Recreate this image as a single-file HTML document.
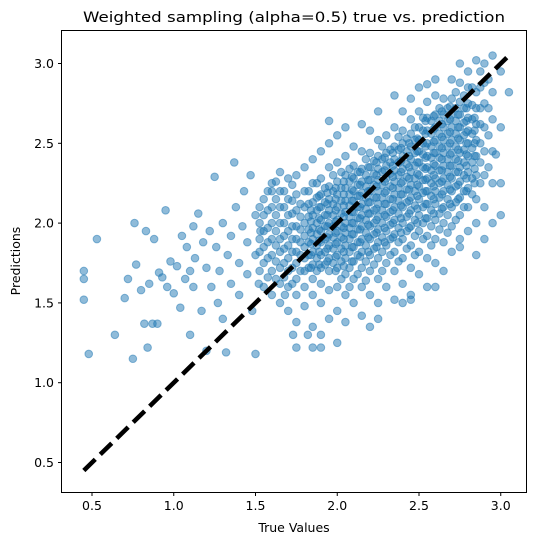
<!DOCTYPE html>
<html><head><meta charset="utf-8"><style>
body{margin:0;background:#fff;}
svg{display:block;font-family:"DejaVu Sans","Liberation Sans",sans-serif;}
</style></head><body>
<svg id="chart" width="536" height="545" viewBox="0 0 536 545">
<text x="294" y="22" font-size="14.5" text-anchor="middle" textLength="422" lengthAdjust="spacingAndGlyphs">Weighted sampling (alpha=0.5) true vs. prediction</text>
<text x="294" y="532" font-size="12.5" text-anchor="middle">True Values</text>
<text transform="translate(20,261) rotate(-90)" font-size="12.5" text-anchor="middle">Predictions</text>
<g id="pts"></g>
<g id="ticks"></g>
<rect x="61.5" y="30.5" width="465" height="462" fill="none" stroke="#000" stroke-width="1"/>
</svg>
<script>
const xTicks=[0.5,1.0,1.5,2.0,2.5,3.0];
const yTicks=[0.5,1.0,1.5,2.0,2.5,3.0];
const idealLine=[0.45,3.05];
const colX=[1.55,1.6,1.65,1.7,1.75,1.8,1.85,1.9,1.95,2.0,2.05,2.1,2.15,2.2,2.25,2.3,2.35,2.4,2.45,2.5,2.55,2.6,2.65,2.7,2.75,2.8,2.85,2.9,2.95,3.0,3.05,
2.025,2.075,2.125,2.175,2.225,2.275,2.325,2.375,2.425,2.475,2.525,2.575,2.625,2.675,2.725,2.775,2.825,1.775,1.825,1.875,1.925,1.975,
1.525,1.575,1.625,1.675,1.725,2.875,2.925];
const colY=[
[1.6,1.75,1.85,1.95,2.05,2.15],
[1.55,1.7,1.8,1.9,2.0,2.1,2.25],
[1.5,1.62,1.72,1.82,1.9,2.0,2.1,2.2,2.32],
[1.45,1.6,1.7,1.78,1.86,1.95,2.05,2.15,2.28],
[1.38,1.55,1.65,1.75,1.82,1.9,1.98,2.08,2.18,2.3],
[1.48,1.6,1.7,1.78,1.85,1.92,2.0,2.1,2.2,2.35],
[1.35,1.55,1.65,1.74,1.82,1.9,1.97,2.05,2.13,2.25,2.4],
[1.3,1.5,1.62,1.72,1.8,1.88,1.95,2.02,2.1,2.18,2.28,2.45],
[1.4,1.58,1.7,1.78,1.86,1.93,2.0,2.08,2.15,2.23,2.35,2.5],
[1.45,1.6,1.72,1.8,1.88,1.95,2.02,2.1,2.18,2.26,2.38,2.55],
[1.38,1.55,1.68,1.78,1.86,1.94,2.0,2.07,2.14,2.22,2.3,2.42,2.6],
[1.5,1.65,1.76,1.85,1.93,2.0,2.07,2.14,2.2,2.28,2.36,2.48],
[1.42,1.6,1.72,1.82,1.9,1.98,2.05,2.12,2.19,2.26,2.34,2.45,2.62],
[1.55,1.7,1.8,1.9,1.98,2.06,2.13,2.2,2.27,2.35,2.44,2.58],
[1.5,1.65,1.78,1.88,1.96,2.04,2.12,2.2,2.27,2.34,2.42,2.52,2.7],
[1.6,1.75,1.86,1.95,2.04,2.12,2.2,2.28,2.36,2.44,2.55],
[1.52,1.7,1.82,1.93,2.02,2.1,2.18,2.26,2.33,2.4,2.48,2.6,2.8],
[1.62,1.78,1.9,2.0,2.1,2.18,2.26,2.34,2.42,2.5,2.58,2.7],
[1.55,1.72,1.86,1.98,2.08,2.16,2.24,2.32,2.4,2.48,2.56,2.65,2.78],
[1.68,1.82,1.95,2.05,2.15,2.23,2.3,2.38,2.45,2.52,2.6,2.7,2.85],
[1.6,1.78,1.92,2.03,2.12,2.2,2.28,2.35,2.42,2.5,2.58,2.66,2.76],
[1.75,1.9,2.02,2.12,2.2,2.28,2.36,2.44,2.52,2.6,2.68,2.8,2.9],
[1.7,1.88,2.0,2.1,2.2,2.28,2.36,2.44,2.52,2.6,2.68,2.78],
[1.82,1.98,2.1,2.2,2.28,2.36,2.44,2.52,2.6,2.68,2.78,2.9],
[1.9,2.05,2.16,2.26,2.35,2.44,2.52,2.6,2.68,2.76,2.88,3.0],
[1.95,2.1,2.22,2.32,2.42,2.5,2.58,2.66,2.75,2.85,2.95],
[2.0,2.15,2.3,2.42,2.52,2.62,2.72,2.82,3.02],
[2.1,2.3,2.45,2.6,2.75,2.88,3.0],
[2.25,2.45,2.65,2.82,3.05],
[2.05,2.6,2.95],
[2.82],
[1.65,1.76,1.84,1.91,1.98,2.06,2.14,2.22,2.32],
[1.6,1.72,1.82,1.9,1.97,2.04,2.11,2.18,2.26,2.34],
[1.68,1.8,1.88,1.96,2.03,2.1,2.17,2.24,2.32],
[1.64,1.76,1.86,1.94,2.02,2.09,2.16,2.23,2.3,2.4],
[1.74,1.84,1.93,2.0,2.08,2.16,2.24,2.31,2.39],
[1.7,1.82,1.91,2.0,2.08,2.16,2.24,2.32,2.4,2.48],
[1.8,1.9,1.99,2.07,2.15,2.23,2.31,2.38,2.46],
[1.76,1.88,1.97,2.06,2.14,2.22,2.3,2.38,2.46,2.54],
[1.84,1.95,2.04,2.13,2.21,2.29,2.37,2.45,2.53],
[1.8,1.92,2.02,2.11,2.2,2.28,2.36,2.44,2.52,2.6],
[1.9,2.0,2.1,2.19,2.27,2.35,2.43,2.5,2.58,2.66],
[1.86,1.98,2.08,2.17,2.25,2.33,2.41,2.48,2.56,2.64],
[1.96,2.06,2.16,2.25,2.33,2.41,2.48,2.56,2.64,2.72],
[1.94,2.05,2.15,2.24,2.32,2.4,2.48,2.56,2.64,2.72],
[2.02,2.13,2.23,2.32,2.4,2.48,2.56,2.64,2.72,2.82],
[2.1,2.2,2.3,2.38,2.46,2.55,2.63,2.72,2.8],
[2.18,2.28,2.38,2.47,2.56,2.65,2.74,2.85],
[1.7,1.8,1.88,1.96,2.04,2.12],
[1.72,1.8,1.88,1.96,2.04,2.12,2.2],
[1.7,1.78,1.86,1.93,2.0,2.08,2.16,2.25],
[1.74,1.82,1.9,1.98,2.05,2.13,2.22],
[1.75,1.84,1.91,1.98,2.05,2.12,2.2,2.3],
[1.7,1.82,1.9,2.0,2.1],
[1.66,1.78,1.88,1.97,2.08,2.2],
[1.65,1.76,1.86,1.95,2.05,2.15,2.26],
[1.66,1.75,1.84,1.92,2.0,2.1,2.2],
[1.62,1.72,1.82,1.9,1.98,2.06,2.14,2.24],
[2.25,2.38,2.5,2.62,2.72,2.85,2.95],
[2.35,2.55,2.72,2.9]];
const coreX=[1.84,1.89,1.94,1.99,2.04,2.09,2.14,2.19,2.24,2.29,2.34,2.39,2.44,2.49,2.54,2.59,2.64,2.69,2.74,2.79,2.84];
const coreY=[
[1.72,1.80,1.87,1.94,2.01,2.08],
[1.74,1.82,1.89,1.96,2.03,2.10,2.17],
[1.76,1.84,1.91,1.98,2.05,2.12,2.19],
[1.70,1.79,1.87,1.94,2.01,2.08,2.15,2.22],
[1.73,1.82,1.90,1.97,2.04,2.11,2.18,2.26],
[1.76,1.85,1.93,2.0,2.07,2.14,2.21,2.29],
[1.79,1.88,1.96,2.03,2.10,2.17,2.24,2.32],
[1.82,1.91,1.99,2.06,2.13,2.20,2.27,2.35],
[1.85,1.94,2.02,2.09,2.16,2.23,2.30,2.38],
[1.88,1.97,2.05,2.12,2.19,2.26,2.33,2.41],
[1.91,2.0,2.08,2.15,2.22,2.29,2.36,2.44],
[1.94,2.03,2.11,2.18,2.25,2.32,2.39,2.47],
[1.97,2.06,2.14,2.21,2.28,2.35,2.42,2.50],
[2.0,2.09,2.17,2.24,2.31,2.38,2.45,2.53],
[2.03,2.12,2.20,2.27,2.34,2.41,2.48,2.56,2.64],
[2.06,2.15,2.23,2.30,2.37,2.44,2.51,2.59,2.67],
[2.09,2.18,2.26,2.33,2.40,2.47,2.54,2.62,2.70],
[2.12,2.21,2.29,2.36,2.43,2.50,2.57,2.65,2.73],
[2.15,2.24,2.32,2.39,2.46,2.53,2.60,2.68],
[2.2,2.28,2.36,2.43,2.50,2.57,2.64,2.72],
[2.25,2.34,2.42,2.50,2.58,2.66]];
const outX=[0.45,0.45,0.45,0.48,0.53,0.64,0.70,0.72,0.75,0.76,0.77,0.80,0.82,0.83,0.84,0.85,0.87,0.88,0.90,0.91,0.93,0.95,0.96,0.98,1.0,1.02,1.04,1.05,1.07,1.08,1.1,1.1,1.12,1.12,1.13,1.15,1.17,1.18,1.2,1.2,1.22,1.23,1.25,1.26,1.27,1.28,1.3,1.3,1.32,1.33,1.35,1.35,1.37,1.38,1.4,1.4,1.42,1.43,1.45,1.45,1.47,1.48,1.5,1.5,1.5,1.52,1.53,
2.55,2.6,2.45,2.9,2.97,2.85,1.95,2.2,2.4,2.0,1.9,1.75,1.82,2.25,3.0,2.75,2.95,1.6,1.68,1.73,1.85];
const outY=[1.52,1.65,1.70,1.18,1.90,1.30,1.53,1.65,1.15,2.00,1.74,1.58,1.37,1.95,1.22,1.62,1.37,1.90,1.37,1.69,1.66,2.08,1.60,1.76,1.56,1.73,1.47,1.92,1.65,1.85,1.30,1.70,1.98,1.60,1.78,2.06,1.45,1.88,1.20,1.72,1.95,1.60,2.29,1.85,1.50,1.70,2.00,1.40,1.19,1.80,1.92,1.62,2.38,2.10,1.75,1.55,1.98,2.20,1.68,1.88,2.30,1.45,1.80,2.05,1.18,1.62,1.95,
2.87,1.60,1.52,1.90,2.43,1.80,2.64,1.35,1.50,1.25,1.22,1.22,1.30,1.40,2.25,1.85,2.00,2.20,1.55,1.30,1.22];

const NS='http://www.w3.org/2000/svg';
function sx(v){return 92+(v-0.5)*163.5;}
function sy(v){return 462.5-(v-0.5)*159.6;}
const pts=document.getElementById('pts');
function dot(x,y){
  const c=document.createElementNS(NS,'circle');
  c.setAttribute('cx',sx(x));c.setAttribute('cy',sy(y));c.setAttribute('r',3.8);
  c.setAttribute('fill','#1f77b4');c.setAttribute('fill-opacity','0.5');
  c.setAttribute('stroke','#1f77b4');c.setAttribute('stroke-opacity','0.5');c.setAttribute('stroke-width','1');
  
  
  pts.appendChild(c);
}
colX.forEach((x,i)=>colY[i].forEach(y=>dot(x,y)));
coreX.forEach((x,i)=>coreY[i].forEach(y=>dot(x,y)));
outX.forEach((x,i)=>dot(x,outY[i]));
const ln=document.createElementNS(NS,'line');
ln.setAttribute('x1',sx(idealLine[0]));ln.setAttribute('y1',sy(idealLine[0]));
ln.setAttribute('x2',sx(idealLine[1]));ln.setAttribute('y2',sy(idealLine[1]));
ln.setAttribute('stroke','#000');ln.setAttribute('stroke-width','4.5');ln.setAttribute('stroke-dasharray','16,7');


pts.appendChild(ln);
const tk=document.getElementById('ticks');
xTicks.forEach(v=>{
  const l=document.createElementNS(NS,'line');
  l.setAttribute('x1',sx(v));l.setAttribute('x2',sx(v));l.setAttribute('y1',492.5);l.setAttribute('y2',496);l.setAttribute('stroke','#000');
  
  
  tk.appendChild(l);
  const t=document.createElementNS(NS,'text');
  t.setAttribute('x',sx(v));t.setAttribute('y',510);t.setAttribute('font-size','12.5');t.setAttribute('text-anchor','middle');
  t.textContent=v.toFixed(1);
  
  
  tk.appendChild(t);
});
yTicks.forEach(v=>{
  const l=document.createElementNS(NS,'line');
  l.setAttribute('x1',58);l.setAttribute('x2',61.5);l.setAttribute('y1',sy(v));l.setAttribute('y2',sy(v));l.setAttribute('stroke','#000');
  
  
  tk.appendChild(l);
  const t=document.createElementNS(NS,'text');
  t.setAttribute('x',54);t.setAttribute('y',sy(v)+4.5);t.setAttribute('font-size','12.5');t.setAttribute('text-anchor','end');
  t.textContent=v.toFixed(1);
  
  
  tk.appendChild(t);
});
</script>
</body></html>
